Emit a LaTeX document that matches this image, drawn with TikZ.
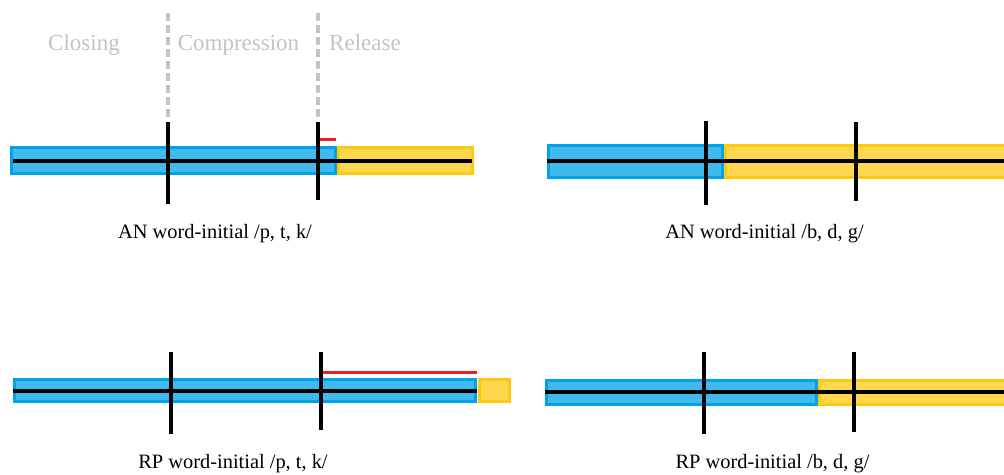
\documentclass[tikz,border=0pt]{standalone}
\usepackage{fontspec}
\setmainfont{Liberation Serif}
\newfontfamily\timesface{Liberation Serif}
\begin{document}
\begin{tikzpicture}[x=1pt,y=-1pt,
  closurebar/.style={draw=closureedge,fill=closurefill,line width=3pt},
  voicebar/.style={draw=voiceedge,fill=voicefill,line width=3pt},
  timeline/.style={draw=black,line width=4pt},
  boundary/.style={draw=black,line width=4pt},
  lagline/.style={draw=lagred,line width=3pt},
  phaseline/.style={draw=phasegray,line width=3.4pt,dash pattern=on 8pt off 4pt},
  phaselabel/.style={text=phasegray,font=\timesface\fontsize{23}{27}\selectfont,anchor=base,inner sep=0pt},
  caption/.style={text=black,font=\timesface\fontsize{20.4}{24}\selectfont,anchor=base,inner sep=0pt}]
\definecolor{closureedge}{HTML}{00A2E8}
\definecolor{closurefill}{HTML}{40B9EE}
\definecolor{voiceedge}{HTML}{FFC90E}
\definecolor{voicefill}{HTML}{FFD74E}
\definecolor{lagred}{HTML}{ED1C24}
\definecolor{phasegray}{HTML}{C3C3C3}
\useasboundingbox (0,0) rectangle (1004,474);
\clip (0,0) rectangle (1004,474);

% phase labels and dashed phase boundaries
\node[phaselabel] (closing) at (84,50) {Closing};
\node[phaselabel] (compression) at (238.5,50) {Compression};
\node[phaselabel] (release) at (365,50) {Release};
\coordinate (d1top) at (168,13);
\coordinate (d1bot) at (168,119);
\coordinate (d2top) at (318,13);
\coordinate (d2bot) at (318,119);
\draw[phaseline] (d1top) -- (d1bot);
\draw[phaseline] (d2top) -- (d2bot);

% AN voiceless
\path[closurebar] (11.5,147.5) rectangle (335.5,173.5);
\path[voicebar] (338.5,147.5) rectangle (472.5,173.5);
\coordinate (a1l) at (13,161); \coordinate (a1r) at (472,161);
\draw[timeline] (a1l) -- (a1r);
\coordinate (a1b1t) at (168,122); \coordinate (a1b1b) at (168,204);
\coordinate (a1b2t) at (318,122); \coordinate (a1b2b) at (318,200);
\draw[boundary] (a1b1t) -- (a1b1b);
\draw[boundary] (a1b2t) -- (a1b2b);
\coordinate (a1rl) at (320,139); \coordinate (a1rr) at (336,139);
\draw[lagline] (a1rl) -- (a1rr);
\node[caption] (capANptk) at (215,238) {AN word-initial /p, t, k/};

% AN voiced
\path[closurebar] (548.5,145.5) rectangle (722.5,177.5);
\path[voicebar] (725.5,145.5) rectangle (1010,177.5);
\coordinate (a2l) at (547,161); \coordinate (a2r) at (1006,161);
\draw[timeline] (a2l) -- (a2r);
\coordinate (a2b1t) at (706,121); \coordinate (a2b1b) at (706,205);
\coordinate (a2b2t) at (856,122); \coordinate (a2b2b) at (856,201);
\draw[boundary] (a2b1t) -- (a2b1b);
\draw[boundary] (a2b2t) -- (a2b2b);
\node[caption] (capANbdg) at (764.5,238) {AN word-initial /b, d, g/};

% RP voiceless
\path[closurebar] (14.5,379.5) rectangle (475.5,401.5);
\path[voicebar] (479.5,379.5) rectangle (509.5,401.5);
\coordinate (r1l) at (13,391); \coordinate (r1r) at (477,391);
\draw[timeline] (r1l) -- (r1r);
\coordinate (r1b1t) at (171,352); \coordinate (r1b1b) at (171,434);
\coordinate (r1b2t) at (321,352); \coordinate (r1b2b) at (321,430);
\draw[boundary] (r1b1t) -- (r1b1b);
\draw[boundary] (r1b2t) -- (r1b2b);
\coordinate (r1rl) at (323,372); \coordinate (r1rr) at (477,372);
\draw[lagline] (r1rl) -- (r1rr);
\node[caption] (capRPptk) at (233,468) {RP word-initial /p, t, k/};

% RP voiced
\path[closurebar] (546.5,380.5) rectangle (816.5,404.5);
\path[voicebar] (819.5,380.5) rectangle (1010,404.5);
\coordinate (r2l) at (545,392); \coordinate (r2r) at (1006,392);
\draw[timeline] (r2l) -- (r2r);
\coordinate (r2b1t) at (704,352); \coordinate (r2b1b) at (704,434);
\coordinate (r2b2t) at (854,352); \coordinate (r2b2b) at (854,432);
\draw[boundary] (r2b1t) -- (r2b1b);
\draw[boundary] (r2b2t) -- (r2b2b);
\node[caption] (capRPbdg) at (772.5,468) {RP word-initial /b, d, g/};
\end{tikzpicture}
\end{document}
